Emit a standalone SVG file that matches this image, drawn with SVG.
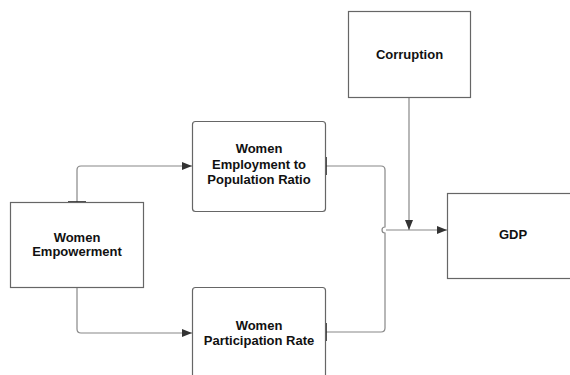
<svg xmlns="http://www.w3.org/2000/svg" width="570" height="375" viewBox="0 0 570 375">
<defs>
<marker id="arr" viewBox="0 0 10 10" refX="10" refY="5" markerWidth="10" markerHeight="10" markerUnits="userSpaceOnUse" orient="auto">
<path d="M0,1 L10,5 L0,9 Z" fill="#333"/>
</marker>
<style>
.box{fill:#fff;stroke:#666;stroke-width:1.2}
.t{font-family:"Liberation Sans",Arial,sans-serif;font-weight:bold;font-size:13px;fill:#111;text-anchor:middle}
.c{fill:none;stroke:#888;stroke-width:1.2}
.tick{stroke:#222;stroke-width:1.6}
</style>
</defs>
<rect width="570" height="375" fill="#fff"/>
<g id="connectors">
<path class="c" d="M77,202 V170 Q77,166 81,166 H192" marker-end="url(#arr)"/>
<path class="c" d="M77,287 V329 Q77,333 81,333 H192" marker-end="url(#arr)"/>
<path class="c" d="M326,166 H381 Q385,166 385,170 V227 A3,3 0 0 0 385,233 V328 Q385,332 381,332 H326"/>
<path class="c" d="M386,230 H447" marker-end="url(#arr)"/>
<path class="c" d="M409,97 V230" marker-end="url(#arr)"/>
<line class="tick" x1="68" y1="202" x2="86" y2="202"/>
<line class="tick" x1="68" y1="287" x2="86" y2="287"/>
<line class="tick" x1="326" y1="157" x2="326" y2="175"/>
<line class="tick" x1="326" y1="323" x2="326" y2="341"/>
<line class="tick" x1="400" y1="97" x2="418" y2="97"/>
</g>
<g id="corruption">
<rect class="box" x="348.5" y="11.5" width="122" height="86"/>
<text class="t" x="409.5" y="59">Corruption</text>
</g>
<g id="employment">
<rect class="box" x="192.5" y="121.5" width="133" height="90" rx="3"/>
<text class="t" x="259" y="153">Women</text>
<text class="t" x="259" y="168.5">Employment to</text>
<text class="t" x="259" y="184">Population Ratio</text>
</g>
<g id="empowerment">
<rect class="box" x="10.5" y="202.5" width="133" height="85"/>
<text class="t" x="77" y="241.5">Women</text>
<text class="t" x="77" y="256">Empowerment</text>
</g>
<g id="participation">
<rect class="box" x="192.5" y="287.5" width="133" height="92" rx="3"/>
<text class="t" x="259" y="329.5">Women</text>
<text class="t" x="259" y="345">Participation Rate</text>
</g>
<g id="gdp">
<rect class="box" x="447.5" y="193.5" width="132" height="85"/>
<text class="t" x="513" y="239">GDP</text>
</g>
</svg>
